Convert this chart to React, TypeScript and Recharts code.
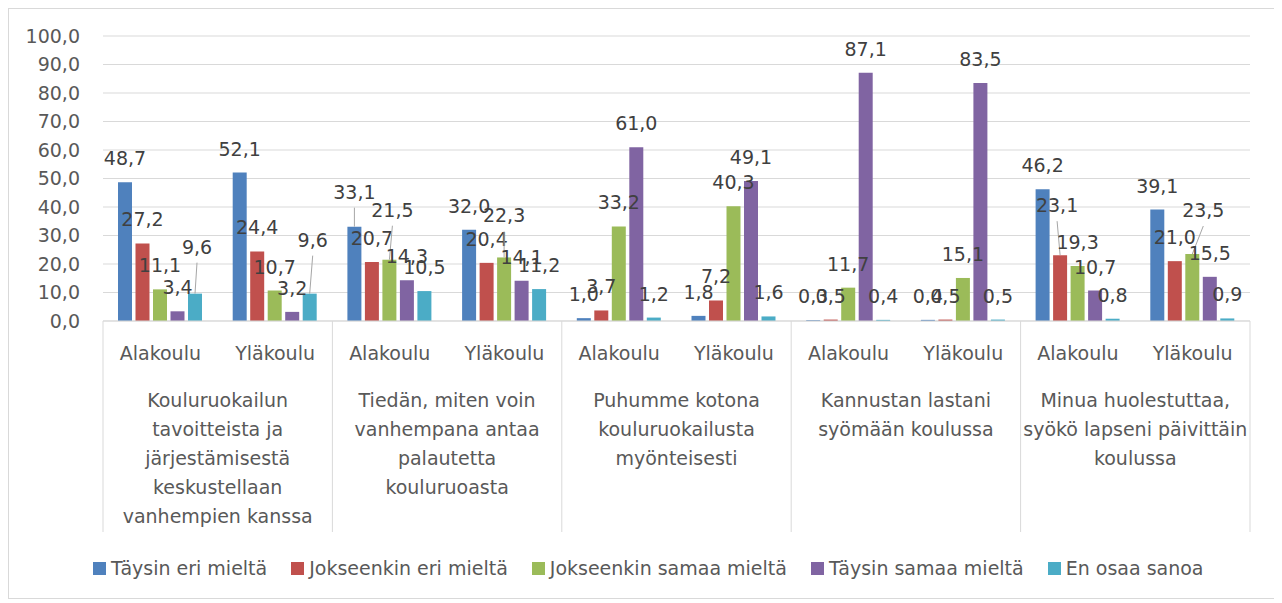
import React from "react";
import { BarChart, Bar, XAxis, YAxis, CartesianGrid, Legend, LabelList } from "recharts";

const subCategories = ["Alakoulu", "Yläkoulu", "Alakoulu", "Yläkoulu", "Alakoulu", "Yläkoulu", "Alakoulu", "Yläkoulu", "Alakoulu", "Yläkoulu"];
const groupLabels: string[][] = [
  ["Kouluruokailun", "tavoitteista ja", "järjestämisestä", "keskustellaan", "vanhempien kanssa"],
  ["Tiedän, miten voin", "vanhempana antaa", "palautetta", "kouluruoasta"],
  ["Puhumme kotona", "kouluruokailusta", "myönteisesti"],
  ["Kannustan lastani", "syömään koulussa"],
  ["Minua huolestuttaa,", "syökö lapseni päivittäin", "koulussa"],
];
const seriesNames = ["Täysin eri mieltä", "Jokseenkin eri mieltä", "Jokseenkin samaa mieltä", "Täysin samaa mieltä", "En osaa sanoa"];
const taysinEri = [48.7, 52.1, 33.1, 32.0, 1.0, 1.8, 0.3, 0.4, 46.2, 39.1];
const jokseenkinEri = [27.2, 24.4, 20.7, 20.4, 3.7, 7.2, 0.5, 0.5, 23.1, 21.0];
const jokseenkinSamaa = [11.1, 10.7, 21.5, 22.3, 33.2, 40.3, 11.7, 15.1, 19.3, 23.5];
const taysinSamaa = [3.4, 3.2, 14.3, 14.1, 61.0, 49.1, 87.1, 83.5, 10.7, 15.5];
const enOsaa = [9.6, 9.6, 10.5, 11.2, 1.2, 1.6, 0.4, 0.5, 0.8, 0.9];
const yTicks = [0, 10, 20, 30, 40, 50, 60, 70, 80, 90, 100];

const seriesValues = [taysinEri, jokseenkinEri, jokseenkinSamaa, taysinSamaa, enOsaa];
const seriesKeys = ["s0", "s1", "s2", "s3", "s4"];
const colors = ["#4F81BD", "#C0504D", "#9BBB59", "#8064A2", "#4BACC6"];

// label displacement (style) for labels moved aside with leader lines
const labelNudge: Record<string, [number, number]> = {
  "s4-0": [2, -23],
  "s4-1": [3, -30],
  "s0-2": [0, -11],
  "s2-2": [3, -26],
  "s2-3": [0, -18],
  "s1-8": [-3, -26],
  "s2-9": [11, -20],
};

const data = subCategories.map((sub, i) => {
  const row: any = { sub, idx: i };
  seriesKeys.forEach((k, s) => (row[k] = seriesValues[s][i]));
  return row;
});

const FONT = "'DejaVu Sans', sans-serif";
const fmt = (v: number) => Number(v).toFixed(1).replace(".", ",");

const makeLabel = (key: string) => (p: any) => {
  const { x, y, width, value, index } = p;
  const cx = Number(x) + Number(width) / 2;
  const top = Number(y);
  const nudge = labelNudge[`${key}-${index}`] ?? [0, 0];
  const lx = cx + nudge[0];
  const ly = top - 24 + nudge[1];
  return (
    <g>
      {(nudge[0] !== 0 || nudge[1] !== 0) && (
        <line x1={lx} y1={ly + 16} x2={cx} y2={top} stroke="#A6A6A6" strokeWidth={1} />
      )}
      <text x={lx} y={ly + 7} textAnchor="middle" fontFamily={FONT} fontSize={19} fill="#404040">
        {fmt(value)}
      </text>
    </g>
  );
};

const CategoryTick = (props: any) => {
  const { x, y, payload } = props;
  const index = payload?.index ?? props.index ?? 0;
  const half = payload?.offset && payload.offset > 0 ? payload.offset : 57.35;
  const lines = groupLabels[Math.floor(index / 2)];
  return (
    <g>
      <text x={x} y={y + 39} textAnchor="middle" fontFamily={FONT} fontSize={19} fill="#595959">
        {payload.value}
      </text>
      {index % 2 === 0 && (
        <>
          <line x1={x - half} y1={y} x2={x - half} y2={y + 211} stroke="#D9D9D9" strokeWidth={1} />
          <text textAnchor="middle" fontFamily={FONT} fontSize={19} fill="#595959">
            {lines.map((ln, li) => (
              <tspan key={li} x={x + half} y={y + 86 + li * 29}>
                {ln}
              </tspan>
            ))}
          </text>
        </>
      )}
      {index === subCategories.length - 1 && (
        <line x1={x + half} y1={y} x2={x + half} y2={y + 211} stroke="#D9D9D9" strokeWidth={1} />
      )}
    </g>
  );
};

const renderLegend = () => (
  <div
    style={{
      display: "flex",
      alignItems: "center",
      height: 30,
      paddingLeft: 84,
      fontFamily: FONT,
      fontSize: 19,
      color: "#595959",
      whiteSpace: "nowrap",
    }}
  >
    {seriesNames.map((name, i) => (
      <div key={name} style={{ display: "flex", alignItems: "center", marginRight: 24 }}>
        <div style={{ width: 13, height: 13, background: colors[i], marginRight: 5 }} />
        <span>{name}</span>
      </div>
    ))}
  </div>
);

export default function App() {
  return (
    <div style={{ width: 1266, height: 589, border: "1px solid #D9D9D9", background: "#fff" }}>
      <BarChart
        width={1266}
        height={589}
        data={data}
        margin={{ top: 27, right: 25, left: 0, bottom: 32 }}
        barSize={14}
        barGap={3.5}
      >
        <CartesianGrid vertical={false} stroke="#D9D9D9" strokeWidth={1} />
        <XAxis
          dataKey="sub"
          interval={0}
          height={215}
          tickLine={false}
          tickSize={0}
          tickMargin={0}
          axisLine={{ stroke: "#D9D9D9" }}
          tick={<CategoryTick />}
        />
        <YAxis
          domain={[0, 100]}
          ticks={yTicks}
          width={94}
          axisLine={false}
          tickLine={false}
          tickSize={0}
          tickMargin={23}
          tickFormatter={fmt}
          tick={{ fontFamily: FONT, fontSize: 19, fill: "#595959" }}
        />
        <Legend verticalAlign="bottom" content={renderLegend} wrapperStyle={{ top: 544, left: 0, width: 1266, height: 30 }} />
        {seriesKeys.map((k, s) => (
          <Bar key={k} dataKey={k} name={seriesNames[s]} fill={colors[s]} isAnimationActive={false}>
            <LabelList dataKey={k} content={makeLabel(k)} />
          </Bar>
        ))}
      </BarChart>
    </div>
  );
}
